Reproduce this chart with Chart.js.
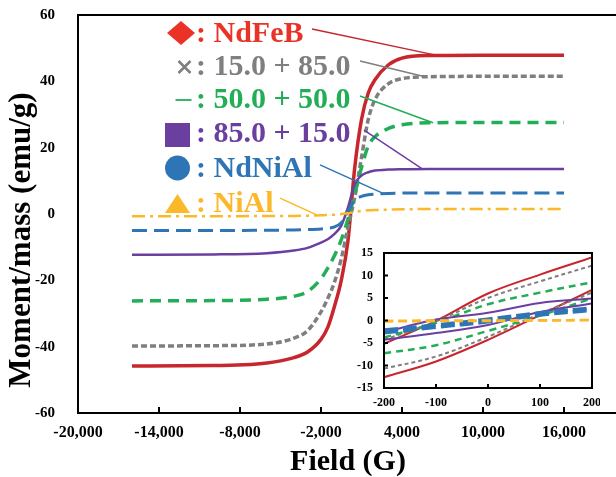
<!DOCTYPE html>
<html>
<head>
<meta charset="utf-8">
<script src="https://cdn.jsdelivr.net/npm/chart.js@4.4.1/dist/chart.umd.min.js"></script>
<style>
  html, body { margin: 0; padding: 0; background: #fff; overflow: hidden; }
  #wrap { position: relative; width: 616px; height: 477px; overflow: hidden; }
  #main { position: absolute; left: 0; top: 0; }
  #inset { position: absolute; left: 340px; top: 243px; }
</style>
</head>
<body>
<div id="wrap">
  <canvas id="main" width="620" height="477"></canvas>
  <canvas id="inset" width="260" height="175"></canvas>
</div>
<script>
// --- data ---
const seriesNames = ['NdFeB', '15.0 + 85.0', '50.0 + 50.0', '85.0 + 15.0', 'NdNiAl', 'NiAl'];

const field = [-16000, -10000, -6000, -4000, -3000, -2000, -1500, -1000, -500, 0, 500, 1000, 1500, 2000, 3000, 4000, 6000, 10000, 16000];
const ndfeb  = [-45.8, -45.7, -44.9, -43.3, -41.6, -37.8, -34.2, -27.8, -20, -8, 14, 28.5, 36.5, 40.5, 45, 47, 47.8, 47.9, 47.9];
const mix15  = [-39.8, -39.7, -39.2, -37.4, -35.2, -29.5, -25.5, -20.5, -13.5, -4, 5, 17, 28.5, 34.5, 39.3, 40.8, 41.4, 41.5, 41.5];
const mix50  = [-26.2, -26.1, -25.7, -24.8, -23.4, -19.5, -16.3, -12.5, -7.8, -1.5, 6, 14, 20.5, 23.3, 25.8, 26.9, 27.5, 27.6, 27.6];
const mix85  = [-12.3, -12.2, -11.8, -11, -10.2, -8.6, -7.6, -6, -3.5, 2, 9, 11.6, 12.6, 13.1, 13.4, 13.5, 13.6, 13.6, 13.6];
const ndnial = [-5, -5, -4.9, -4.8, -4.7, -4.5, -4.3, -3.9, -2.6, 0.8, 4.2, 5.3, 5.8, 6, 6.2, 6.3, 6.3, 6.3, 6.3];
const nial   = [-0.7, -0.7, -0.6, -0.6, -0.5, -0.4, -0.3, -0.2, 0, 0.2, 0.6, 0.9, 1.1, 1.2, 1.3, 1.4, 1.5, 1.5, 1.5];
const mainValues = [ndfeb, mix15, mix50, mix85, ndnial, nial];

// inset: two branches per sample, -200..200 G
const insetField = [-200, -100, 0, 100, 200];
const ndfebUp   = [-5.2, -0.1, 6.0, 10.2, 14.0];
const ndfebLow  = [-12.6, -9.1, -4.3, 1.2, 6.8];
const mix15Up   = [-4.3, -0.2, 5.0, 8.7, 12.2];
const mix15Low  = [-10.7, -8.0, -3.6, 1.5, 6.2];
const mix50Up   = [-3.8, -0.5, 3.6, 6.2, 8.5];
const mix50Low  = [-7.3, -5.5, -2.3, 1.1, 4.9];
const mix85Up   = [-2.6, 0.2, 1.7, 3.9, 4.9];
const mix85Low  = [-4.3, -2.8, -1.0, 1.9, 3.8];
const ndnialUp  = [-2.1, -1.0, 0.3, 1.7, 2.8];
const ndnialLow = [-2.7, -1.5, -0.3, 1.2, 2.3];
const nialUp    = [-0.1, 0, 0, 0.05, 0.1];
const nialLow   = [-0.2, -0.1, -0.1, 0, 0.1];
const insetValues = [[ndfebUp, ndfebLow], [mix15Up, mix15Low], [mix50Up, mix50Low],
                     [mix85Up, mix85Low], [ndnialUp, ndnialLow], [nialUp, nialLow]];

const xTicksMain  = [-20000, -14000, -8000, -2000, 4000, 10000, 16000];
const yTicksMain  = [-60, -40, -20, 0, 20, 40, 60];
const xTicksInset = [-200, -100, 0, 100, 200];
const yTicksInset = [-15, -10, -5, 0, 5, 10, 15];

// --- styles ---
const FONT = '"Liberation Serif", "Times New Roman", serif';
const lineColors = ['#C8262D', '#7F7F7F', '#22AE57', '#6B3FA0', '#2E75B6', '#FBB829'];
const textColors = ['#EA3326', '#7F7F7F', '#22AE57', '#6B3FA0', '#2E75B6', '#FBB829'];
const mainDash   = [[], [6, 3], [11, 7], [], [15, 7], [13, 5, 3, 5]];
const mainWidth  = [3.5, 3.5, 3.5, 2.5, 3, 2.5];
const insetDash  = [[], [4, 3], [7, 5], [], [14, 5], [9, 5]];
const insetWidth = [2, 2, 2.5, 2, 3.5, 2.5];

// labels written inside the plot, with leader lines to the curves (leader ends in data units)
const notes = [
  { sym: 'diamond', cy: 33,  base: 42,  from: [-2667, 55.8], to: [6500, 47.9] },
  { sym: 'cross',   cy: 67,  base: 75,  from: [890, 46.1],   to: [5700, 41.4] },
  { sym: 'dash',    cy: 100, base: 108, from: [890, 35.6],   to: [6300, 27.5] },
  { sym: 'square',  cy: 135, base: 142, from: [1185, 25.3],  to: [5500, 13.6] },
  { sym: 'circle',  cy: 168, base: 177, from: [-2074, 14.8], to: [2600, 6.2] },
  { sym: 'triangle',cy: 204, base: 212, from: [-5037, 4.8],  to: [-2200, -0.5] }
];
const symX = [181, 184.5, 183.5, 177.5, 177.5, 177.5];

function drawSymbol(ctx, sym, cx, cy, color) {
  ctx.fillStyle = color;
  ctx.strokeStyle = color;
  ctx.beginPath();
  if (sym === 'diamond') {
    ctx.moveTo(cx, cy - 12); ctx.lineTo(cx + 14, cy); ctx.lineTo(cx, cy + 12); ctx.lineTo(cx - 14, cy);
    ctx.closePath(); ctx.fill();
  } else if (sym === 'cross') {
    ctx.lineWidth = 2.5;
    ctx.moveTo(cx - 6, cy - 6); ctx.lineTo(cx + 6, cy + 6);
    ctx.moveTo(cx + 6, cy - 6); ctx.lineTo(cx - 6, cy + 6);
    ctx.stroke();
  } else if (sym === 'dash') {
    ctx.lineWidth = 1.8;
    ctx.moveTo(cx - 8, cy); ctx.lineTo(cx + 8, cy); ctx.stroke();
  } else if (sym === 'square') {
    ctx.fillRect(cx - 12.5, cy - 12, 25, 24);
  } else if (sym === 'circle') {
    ctx.arc(cx, cy, 12.5, 0, Math.PI * 2); ctx.fill();
  } else if (sym === 'triangle') {
    ctx.moveTo(cx, cy - 10); ctx.lineTo(cx + 12.5, cy + 9); ctx.lineTo(cx - 12.5, cy + 9);
    ctx.closePath(); ctx.fill();
  }
}

const mainDecor = {
  id: 'mainDecor',
  afterDatasetsDraw(chart) {
    const { ctx, chartArea: a, scales: { x, y } } = chart;
    ctx.save();
    // leaders, symbols, labels
    notes.forEach((n, i) => {
      ctx.setLineDash([]);
      ctx.strokeStyle = lineColors[i];
      ctx.lineWidth = 1.5;
      ctx.beginPath();
      ctx.moveTo(x.getPixelForValue(n.from[0]), y.getPixelForValue(n.from[1]));
      ctx.lineTo(x.getPixelForValue(n.to[0]), y.getPixelForValue(n.to[1]));
      ctx.stroke();
      drawSymbol(ctx, n.sym, symX[i], n.cy, textColors[i]);
      ctx.fillStyle = textColors[i];
      ctx.font = 'bold 30px ' + FONT;
      ctx.textBaseline = 'alphabetic';
      ctx.textAlign = 'left';
      ctx.fillText(': ' + seriesNames[i], 196, n.base);
    });
    // frame + inside tick marks
    ctx.strokeStyle = '#000';
    ctx.lineWidth = 2;
    ctx.strokeRect(a.left, a.top, a.right - a.left, a.bottom - a.top);
    ctx.beginPath();
    xTicksMain.forEach(v => {
      const px = x.getPixelForValue(v);
      ctx.moveTo(px, a.bottom); ctx.lineTo(px, a.bottom - 6);
    });
    ctx.stroke();
    // y axis title
    ctx.translate(22, 240);
    ctx.rotate(-Math.PI / 2);
    ctx.fillStyle = '#000';
    ctx.font = 'bold 31px ' + FONT;
    ctx.textAlign = 'center';
    ctx.textBaseline = 'middle';
    ctx.fillText('Moment/mass (emu/g)', 0, 0);
    ctx.restore();
  }
};

const insetDecor = {
  id: 'insetDecor',
  beforeDraw(chart) {
    const { ctx, chartArea: a } = chart;
    ctx.save();
    ctx.fillStyle = '#fff';
    ctx.fillRect(a.left, a.top, a.right - a.left, a.bottom - a.top);
    ctx.restore();
  },
  afterDatasetsDraw(chart) {
    const { ctx, chartArea: a, scales: { x, y } } = chart;
    ctx.save();
    ctx.strokeStyle = '#000';
    ctx.lineWidth = 2;
    ctx.setLineDash([]);
    ctx.strokeRect(a.left, a.top, a.right - a.left, a.bottom - a.top);
    ctx.beginPath();
    xTicksInset.forEach(v => {
      const px = x.getPixelForValue(v);
      ctx.moveTo(px, a.bottom); ctx.lineTo(px, a.bottom - 4);
    });
    yTicksInset.forEach(v => {
      const py = y.getPixelForValue(v);
      ctx.moveTo(a.left, py); ctx.lineTo(a.left + 4, py);
    });
    ctx.stroke();
    ctx.restore();
  }
};

// fixed scale boxes so the plot areas land where they are in the picture
const fixX = h => s => { s.height = h; s.paddingLeft = 0; s.paddingRight = 0; };
const fixY = w => s => { s.width = w; s.paddingTop = 0; s.paddingBottom = 0; };

const mainSets = mainValues.map((vals, i) => ({
  label: seriesNames[i],
  data: field.map((f, k) => ({ x: f, y: vals[k] })),
  borderColor: lineColors[i],
  borderWidth: mainWidth[i],
  borderDash: mainDash[i],
  pointRadius: 0,
  fill: false,
  cubicInterpolationMode: 'monotone',
  order: 6 - i
}));

new Chart(document.getElementById('main'), {
  type: 'line',
  data: { datasets: mainSets },
  options: {
    responsive: false,
    animation: false,
    layout: { padding: { left: 0, top: 15, right: 2, bottom: 0 } },
    plugins: { legend: { display: false }, tooltip: { enabled: false } },
    scales: {
      x: {
        type: 'linear', min: -20000, max: 20000,
        afterBuildTicks: s => { s.ticks = xTicksMain.map(v => ({ value: v })); },
        afterFit: fixX(64),
        grid: { display: false, drawTicks: false },
        border: { display: false },
        ticks: { color: '#000', font: { family: FONT, size: 16, weight: 'bold' }, padding: 10,
                 maxRotation: 0, autoSkip: false, callback: v => v.toLocaleString('en-US') },
        title: { display: true, text: 'Field (G)', color: '#000',
                 font: { family: FONT, size: 30, weight: 'bold', lineHeight: 1 }, padding: 0 }
      },
      y: {
        type: 'linear', min: -60, max: 60,
        afterBuildTicks: s => { s.ticks = yTicksMain.map(v => ({ value: v })); },
        afterFit: fixY(78),
        grid: { display: false, drawTicks: false },
        border: { display: false },
        ticks: { color: '#000', font: { family: FONT, size: 15, weight: 'bold' }, padding: 23 }
      }
    }
  },
  plugins: [mainDecor]
});

const insetSets = [];
insetValues.forEach((pair, i) => {
  pair.forEach(vals => {
    insetSets.push({
      data: insetField.map((f, k) => ({ x: f, y: vals[k] })),
      borderColor: lineColors[i],
      borderWidth: insetWidth[i],
      borderDash: insetDash[i],
      pointRadius: 0,
      fill: false,
      tension: 0.35,
      order: 6 - i
    });
  });
});

new Chart(document.getElementById('inset'), {
  type: 'line',
  data: { datasets: insetSets },
  options: {
    responsive: false,
    animation: false,
    layout: { padding: { left: 0, top: 10, right: 8, bottom: 0 } },
    plugins: { legend: { display: false }, tooltip: { enabled: false } },
    scales: {
      x: {
        type: 'linear', min: -200, max: 200,
        afterBuildTicks: s => { s.ticks = xTicksInset.map(v => ({ value: v })); },
        afterFit: fixX(30),
        grid: { display: false, drawTicks: false },
        border: { display: false },
        ticks: { color: '#000', font: { family: FONT, size: 12, weight: 'bold' }, padding: 8, maxRotation: 0, autoSkip: false }
      },
      y: {
        type: 'linear', min: -15, max: 15,
        afterBuildTicks: s => { s.ticks = yTicksInset.map(v => ({ value: v })); },
        afterFit: fixY(44),
        grid: { display: false, drawTicks: false },
        border: { display: false },
        ticks: { color: '#000', font: { family: FONT, size: 12, weight: 'bold' }, padding: 11 }
      }
    }
  },
  plugins: [insetDecor]
});
</script>
</body>
</html>
